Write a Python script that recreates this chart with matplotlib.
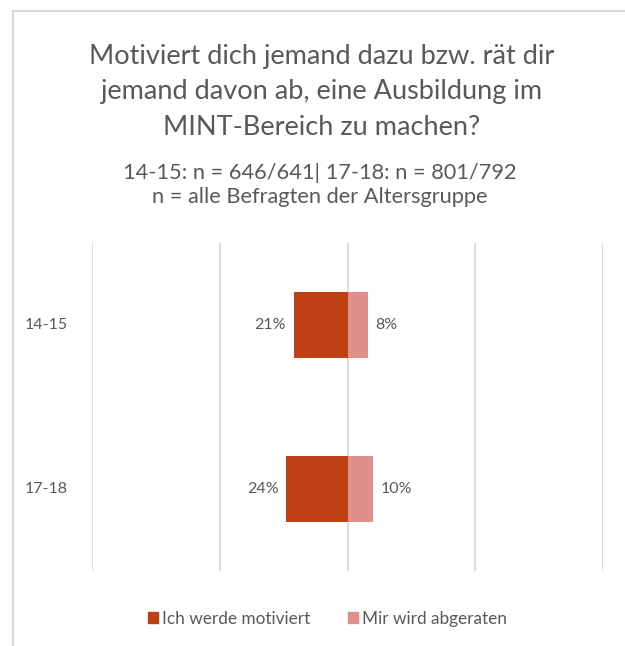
import matplotlib
matplotlib.use('Agg')
import matplotlib.pyplot as plt
from matplotlib.patches import Patch
from matplotlib.lines import Line2D
from matplotlib.transforms import blended_transform_factory

plt.rcParams['font.family'] = ['Lato', 'DejaVu Sans']

groups = ['14-15', '17-18']
motiviert = [21, 24]
abgeraten = [8, 10]
series_names = ['Ich werde motiviert', 'Mir wird abgeraten']
title = 'Motiviert dich jemand dazu bzw. rät dir\njemand davon ab, eine Ausbildung im\nMINT-Bereich zu machen?'
subtitle = '14-15: n = 646/641| 17-18: n = 801/792\nn = alle Befragten der Altersgruppe'

dark = '#BE4014'
light = '#E0908A'
txt = '#595959'
grid = '#D9D9D9'

fig = plt.figure(figsize=(6.25, 6.46), dpi=100)
ax = fig.add_axes([0.1472, 0.1161, 0.8176, 0.5077])

y = [0, 1]
ax.barh(y, [-v for v in motiviert], height=0.4, color=dark)
ax.barh(y, abgeraten, height=0.4, color=light)
ax.set_xlim(-100, 100)
ax.set_ylim(1.5, -0.5)

lab_tr = blended_transform_factory(fig.transFigure, ax.transData)
for i in range(len(groups)):
    ax.text(-motiviert[i] - 3, y[i], f'{motiviert[i]}%', ha='right', va='center',
            fontsize=11.5, color=txt)
    ax.text(abgeraten[i] + 3, y[i], f'{abgeraten[i]}%', ha='left', va='center',
            fontsize=11.5, color=txt)
    ax.text(0.0736, y[i], groups[i], transform=lab_tr, ha='center', va='center',
            fontsize=11.5, color=txt)

for gx in [-100, -50, 0, 50, 100]:
    ax.axvline(gx, color=grid, lw=1.3, zorder=0)
ax.set_xticks([])
ax.set_yticks([])
for s in ax.spines.values():
    s.set_visible(False)

# frame of the chart area (cut off at right and bottom)
fig.add_artist(Line2D([0.0208, 0.0208], [0, 0.983], transform=fig.transFigure, color=grid, lw=1.5))
fig.add_artist(Line2D([0.0208, 1.0], [0.983, 0.983], transform=fig.transFigure, color=grid, lw=1.5))

fig.text(0.515, 1 - 92 / 646, title, ha='center', va='center', fontsize=19.5,
         color=txt, linespacing=1.52)
fig.text(0.512, 1 - 185 / 646, subtitle, ha='center', va='center', fontsize=15.7,
         color=txt, linespacing=1.22)

handles = [Patch(color=dark), Patch(color=light)]
fig.legend(handles, series_names, loc='center', bbox_to_anchor=(0.524, 1 - 619 / 646),
           ncol=2, frameon=False, fontsize=12.4, handlelength=0.6, handleheight=0.6,
           handletextpad=0.2, columnspacing=2.2, labelcolor=txt)

plt.savefig('out.png', dpi=100)
